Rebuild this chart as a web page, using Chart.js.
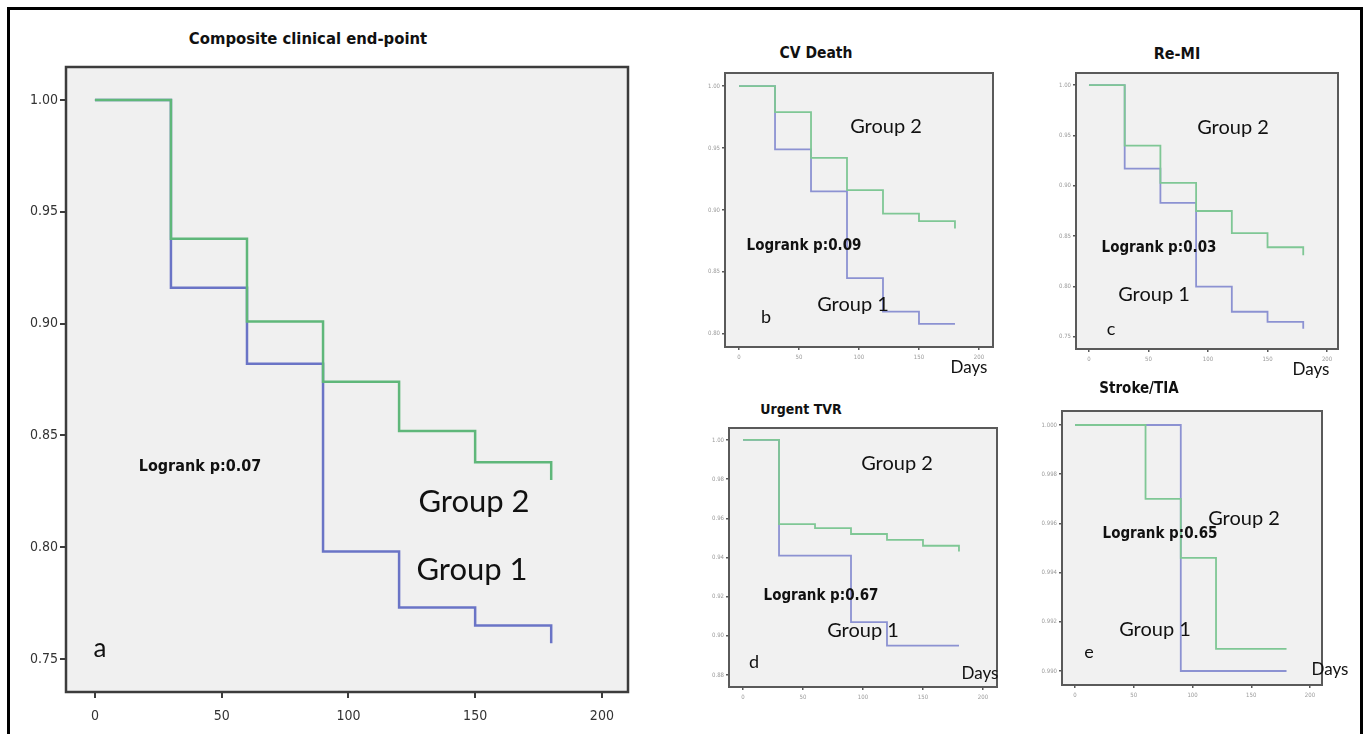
<!DOCTYPE html>
<html>
<head>
<meta charset="utf-8">
<script src="https://cdn.jsdelivr.net/npm/chart.js@4.4.1/dist/chart.umd.min.js"></script>
<style>
  body { margin: 0; background: #fff; width: 1364px; height: 734px; overflow: hidden; position: relative; font-family: "Liberation Sans", sans-serif; }
  #frame { position: absolute; left: 7px; top: 7px; width: 1350px; height: 760px; border: 3px solid #000; }
  canvas { position: absolute; }
  .txt { position: absolute; white-space: nowrap; color: #111; transform: translate(-50%, -50%); }
  .title { font-family: "Liberation Sans Narrow", "DejaVu Sans Condensed", sans-serif; font-weight: bold; font-size: 15px; }
  .grp { font-family: Lato, "Open Sans", sans-serif; }
  .lr { font-family: "Liberation Sans Narrow", "DejaVu Sans Condensed", sans-serif; font-weight: bold; }
</style>
</head>
<body>
<div id="frame"></div>

<canvas id="chartA"></canvas>
<canvas id="chartB"></canvas>
<canvas id="chartC"></canvas>
<canvas id="chartD"></canvas>
<canvas id="chartE"></canvas>

<div class="txt title" style="left:308px;top:38px;font-size:16.5px">Composite clinical end-point</div>
<div class="txt grp" style="left:474px;top:500px;font-size:31px">Group 2</div>
<div class="txt grp" style="left:472px;top:568px;font-size:31px">Group 1</div>
<div class="txt lr" style="left:200px;top:465px;font-size:16px">Logrank p:0.07</div>
<div class="txt grp" style="left:100px;top:647px;font-size:26px">a</div>

<div class="txt title" style="left:816px;top:53px;font-size:15.5px">CV Death</div>
<div class="txt grp" style="left:886px;top:125px;font-size:20px">Group 2</div>
<div class="txt grp" style="left:853px;top:303px;font-size:20px">Group 1</div>
<div class="txt lr" style="left:804px;top:245px;font-size:15px">Logrank p:0.09</div>
<div class="txt grp" style="left:766px;top:316px;font-size:18px">b</div>
<div class="txt grp" style="left:969px;top:366px;font-size:17px">Days</div>

<div class="txt title" style="left:1177px;top:53px;font-size:16px">Re-MI</div>
<div class="txt grp" style="left:1233px;top:126px;font-size:20px">Group 2</div>
<div class="txt grp" style="left:1154px;top:293px;font-size:20px">Group 1</div>
<div class="txt lr" style="left:1159px;top:247px;font-size:15px">Logrank p:0.03</div>
<div class="txt grp" style="left:1111px;top:328px;font-size:18px">c</div>
<div class="txt grp" style="left:1311px;top:368px;font-size:17px">Days</div>

<div class="txt title" style="left:801px;top:409px;font-size:14px">Urgent TVR</div>
<div class="txt grp" style="left:897px;top:462px;font-size:20px">Group 2</div>
<div class="txt grp" style="left:863px;top:629px;font-size:20px">Group 1</div>
<div class="txt lr" style="left:821px;top:595px;font-size:15px">Logrank p:0.67</div>
<div class="txt grp" style="left:754px;top:661px;font-size:18px">d</div>
<div class="txt grp" style="left:980px;top:672px;font-size:17px">Days</div>

<div class="txt title" style="left:1139px;top:388px">Stroke/TIA</div>
<div class="txt grp" style="left:1244px;top:517px;font-size:20px">Group 2</div>
<div class="txt grp" style="left:1155px;top:628px;font-size:20px">Group 1</div>
<div class="txt lr" style="left:1160px;top:533px;font-size:15px">Logrank p:0.65</div>
<div class="txt grp" style="left:1089px;top:651px;font-size:18px">e</div>
<div class="txt grp" style="left:1330px;top:668px;font-size:17px">Days</div>

<script>
// follow-up days at which the survival estimate changes
const days = [0, 30, 60, 90, 120, 150, 180];
const xTicks = [0, 50, 100, 150, 200];

// a - composite clinical end-point
const compositeGroup2 = [1.00, 0.938, 0.901, 0.874, 0.852, 0.838, 0.830];
const compositeGroup1 = [1.00, 0.916, 0.882, 0.798, 0.773, 0.765, 0.757];
const compositeTicks = [0.75, 0.80, 0.85, 0.90, 0.95, 1.00];

// b - CV death
const cvDeathGroup2 = [1.00, 0.979, 0.942, 0.916, 0.897, 0.891, 0.885];
const cvDeathGroup1 = [1.00, 0.949, 0.915, 0.845, 0.818, 0.808, 0.808];
const cvDeathTicks = [0.80, 0.85, 0.90, 0.95, 1.00];

// c - re-MI
const reMiGroup2 = [1.00, 0.940, 0.903, 0.875, 0.853, 0.839, 0.831];
const reMiGroup1 = [1.00, 0.917, 0.883, 0.800, 0.775, 0.765, 0.758];
const reMiTicks = [0.75, 0.80, 0.85, 0.90, 0.95, 1.00];

// d - urgent TVR
const tvrGroup2 = [1.00, 0.957, 0.955, 0.952, 0.949, 0.946, 0.943];
const tvrGroup1 = [1.00, 0.941, 0.941, 0.907, 0.895, 0.895, 0.895];
const tvrTicks = [0.88, 0.90, 0.92, 0.94, 0.96, 0.98, 1.00];

// e - stroke / TIA
const strokeGroup2 = [1.000, 1.000, 0.997, 0.9946, 0.9909, 0.9909, 0.9909];
const strokeGroup1 = [1.000, 1.000, 1.000, 0.9900, 0.9900, 0.9900, 0.9900];
const strokeTicks = [0.990, 0.992, 0.994, 0.996, 0.998, 1.000];

// grey plot box with a dark frame, like the SPSS output
const plotBox = {
    id: 'plotBox',
    beforeDraw(chart, args, opts) {
        const a = chart.chartArea;
        const ctx = chart.ctx;
        ctx.save();
        ctx.fillStyle = opts.fill;
        ctx.fillRect(a.left, a.top, a.right - a.left, a.bottom - a.top);
        ctx.restore();
    },
    afterDraw(chart, args, opts) {
        const a = chart.chartArea;
        const ctx = chart.ctx;
        ctx.save();
        ctx.strokeStyle = opts.stroke;
        ctx.lineWidth = opts.width;
        ctx.strokeRect(a.left, a.top, a.right - a.left, a.bottom - a.top);
        ctx.restore();
    }
};

function toPoints(ys) {
    return days.map((d, i) => ({ x: d, y: ys[i] }));
}

// box = where the grey plot area sits on the page
function makePanel(id, box, g2, g1, yTicks, yRange, o) {
    const canvas = document.getElementById(id);
    const yW = o.yW, xH = o.xH;
    const w = box.right - box.left + yW + 4;
    const h = box.bottom - box.top + xH + 4;
    canvas.style.left = (box.left - yW) + 'px';
    canvas.style.top = (box.top - 2) + 'px';
    canvas.style.width = w + 'px';
    canvas.style.height = h + 'px';
    canvas.width = w;
    canvas.height = h;
    const tickFont = { size: o.fs, family: '"Liberation Sans Narrow", "DejaVu Sans Condensed", sans-serif' };

    return new Chart(canvas.getContext('2d'), {
        type: 'line',
        data: {
            datasets: [
                { label: 'Group 2', data: toPoints(g2), borderColor: o.green, borderWidth: o.lw, stepped: 'before', pointRadius: 0, fill: false },
                { label: 'Group 1', data: toPoints(g1), borderColor: o.blue, borderWidth: o.lw, stepped: 'before', pointRadius: 0, fill: false }
            ]
        },
        options: {
            responsive: false,
            animation: false,
            layout: { padding: { top: 2, right: 4, left: 0, bottom: 0 } },
            plugins: {
                legend: { display: false },
                tooltip: { enabled: false },
                plotBox: { fill: o.bg, stroke: o.frame, width: o.fw }
            },
            scales: {
                x: {
                    type: 'linear',
                    min: o.xRange[0],
                    max: o.xRange[1],
                    afterBuildTicks: axis => { axis.ticks = xTicks.map(v => ({ value: v })); },
                    afterFit: axis => { axis.height = xH; axis.paddingLeft = 0; axis.paddingRight = 0; },
                    grid: { display: true, drawOnChartArea: false, drawTicks: true, tickLength: o.tl, color: o.frame, lineWidth: o.tw },
                    border: { display: false },
                    ticks: { color: o.tc, font: tickFont, padding: o.xp, maxRotation: 0, autoSkip: false, callback: v => String(v) }
                },
                y: {
                    min: yRange[0],
                    max: yRange[1],
                    afterBuildTicks: axis => { axis.ticks = yTicks.map(v => ({ value: v })); },
                    afterFit: axis => { axis.width = yW; axis.paddingTop = 0; axis.paddingBottom = 0; },
                    grid: { display: true, drawOnChartArea: false, drawTicks: true, tickLength: o.tl, color: o.frame, lineWidth: o.tw },
                    border: { display: false },
                    ticks: { color: o.tc, font: tickFont, padding: 2, autoSkip: false, callback: v => v.toFixed(o.dec) }
                }
            }
        },
        plugins: [plotBox]
    });
}

const bigStyle = { yW: 48, xH: 44, tl: 6, tw: 2, fs: 14, xp: 10, tc: '#333', dec: 2, bg: '#f0f0f0', frame: '#3c3c3c', fw: 2.5, lw: 2.5, green: '#5fb77a', blue: '#6a74c6', xRange: [-11.4, 210.3] };
const smallStyle = { yW: 26, xH: 22, tl: 3, tw: 1.5, fs: 6, xp: 4, tc: '#9a9a9a', dec: 2, bg: '#f1f1f1', frame: '#5a5a5a', fw: 2, lw: 1.8, green: '#7fc795', blue: '#8c92d2', xRange: [-11.7, 211.7] };

makePanel('chartA', { left: 66, top: 67, right: 628, bottom: 690 }, compositeGroup2, compositeGroup1, compositeTicks, [0.7352, 1.0148], bigStyle);
makePanel('chartB', { left: 725, top: 73, right: 993, bottom: 345 }, cvDeathGroup2, cvDeathGroup1, cvDeathTicks, [0.7894, 1.0106], smallStyle);
makePanel('chartC', { left: 1076, top: 73, right: 1338, bottom: 347 }, reMiGroup2, reMiGroup1, reMiTicks, [0.738, 1.012], Object.assign({}, smallStyle, { xRange: [-10.9, 209.2] }));
makePanel('chartD', { left: 729, top: 428, right: 997, bottom: 685 }, tvrGroup2, tvrGroup1, tvrTicks, [0.8739, 1.0061], smallStyle);
makePanel('chartE', { left: 1062, top: 411, right: 1322, bottom: 683 }, strokeGroup2, strokeGroup1, strokeTicks, [0.98943, 1.00057], Object.assign({}, smallStyle, { dec: 3, xRange: [-11.1, 210.2] }));
</script>
</body>
</html>
